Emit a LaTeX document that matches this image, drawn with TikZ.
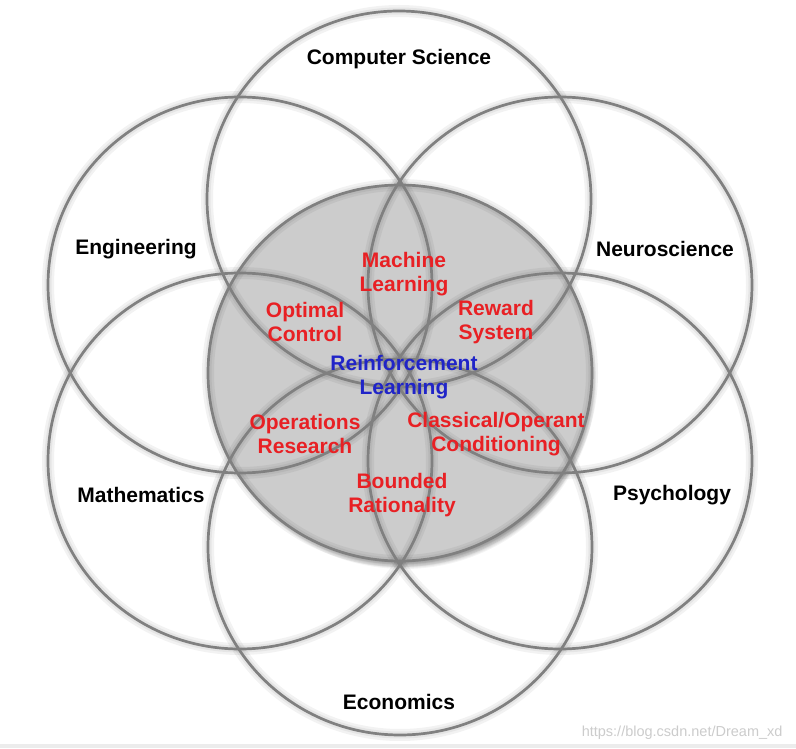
\documentclass[tikz,border=0pt]{standalone}
\usepackage{fontspec}
\setmainfont{Liberation Sans}
\usepackage{xcolor}
\usepackage{tikz}
\definecolor{ringgray}{RGB}{128,128,128}
\definecolor{corefill}{RGB}{204,204,204}
\definecolor{fieldred}{RGB}{232,32,36}
\definecolor{coreblue}{RGB}{32,36,200}
\definecolor{marktext}{RGB}{204,204,204}
\definecolor{barfill}{RGB}{236,236,236}
\tikzset{
  ring/.style={draw=ringgray,line width=2.7pt},
  ringglow/.style={draw=black,opacity=0.05,line width=#1},
  fieldlabel/.style={font=\fontsize{21}{24}\selectfont\bfseries,text=black,align=center},
  overlap/.style={fieldlabel,text=fieldred},
  corelabel/.style={fieldlabel,text=coreblue}
}

\begin{document}
\begin{tikzpicture}[x=1pt,y=1pt]
    \useasboundingbox (0,0) rectangle (796,748);
    \fill[white] (0,0) rectangle (796,748);
    \fill[barfill] (0,0) rectangle (796,4);

    % Soft shadow under the core disc
    \foreach \k in {1,...,10}
        \fill[black,opacity=0.045] (404,367) ellipse [x radius=182+\k, y radius=178+\k];

    % Core disc
    \fill[corefill] (400,375) ellipse [x radius=192, y radius=188];

    % Glow round every ring
    \foreach \cx/\cy in {399/549,560/463,560/287,400/201,240/287,240/463,400/375}{
        \draw[ringglow=12pt] (\cx,\cy) ellipse [x radius=192, y radius=188];
        \draw[ringglow=7pt] (\cx,\cy) ellipse [x radius=192, y radius=188];
    }

    % Six field rings and the core ring
    \foreach \cx/\cy in {399/549,560/463,560/287,400/201,240/287,240/463,400/375}
        \draw[ring] (\cx,\cy) ellipse [x radius=192, y radius=188];

    % Field labels
    \node[fieldlabel] (cs)    at (399,689) {Computer Science};
    \node[fieldlabel] (eng)   at (136,499) {Engineering};
    \node[fieldlabel] (neuro) at (665,499) {Neuroscience};
    \node[fieldlabel] (math)  at (141,253) {Mathematics};
    \node[fieldlabel] (psych) at (672,253) {Psychology};
    \node[fieldlabel] (econ)  at (399,46)  {Economics};

    % Overlap labels
    \node[overlap] (ml)  at (404,474) {Machine\\Learning};
    \node[overlap] (oc)  at (305,426) {Optimal\\Control};
    \node[overlap] (rs)  at (496,426) {Reward\\System};
    \node[overlap] (opr) at (305,314) {Operations\\Research};
    \node[overlap] (coc) at (496,314) {Classical/Operant\\Conditioning};
    \node[overlap] (br)  at (402,253) {Bounded\\Rationality};

    % Core label
    \node[corelabel] (rl) at (404,371) {Reinforcement\\Learning};

    % Watermark
    \node[anchor=east,text=marktext,font=\fontsize{14.5}{14.5}\selectfont] (mark) at (786,15) {https://blog.csdn.net/Dream\_xd};
\end{tikzpicture}
\end{document}
